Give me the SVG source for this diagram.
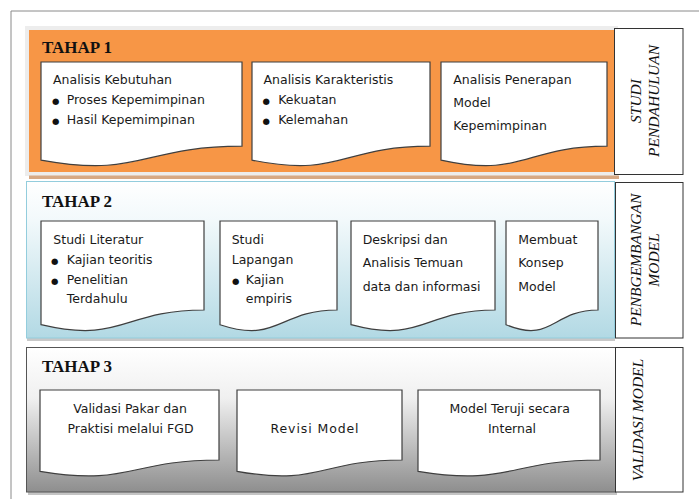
<svg xmlns="http://www.w3.org/2000/svg" width="699" height="499" viewBox="0 0 699 499">
<defs>
<linearGradient id="gBlue" x1="0" y1="0" x2="0" y2="1">
<stop offset="0" stop-color="#ffffff"/>
<stop offset="0.25" stop-color="#f2f9fb"/>
<stop offset="1" stop-color="#b2d9e4"/>
</linearGradient>
<linearGradient id="gGrey" x1="0" y1="0" x2="0" y2="1">
<stop offset="0" stop-color="#ffffff"/>
<stop offset="0.35" stop-color="#f0f0f0"/>
<stop offset="1" stop-color="#8e8e8e"/>
</linearGradient>
</defs>
<style>
.doc{fill:#ffffff;stroke:#3f3f3f;stroke-width:1.2}
.t{font-family:"DejaVu Sans",sans-serif;font-size:12.5px;fill:#1a1a1a}
.c{text-anchor:middle}
.b{font-family:"DejaVu Sans",sans-serif;font-size:8.5px;fill:#111}
.h{font-family:"Liberation Serif",serif;font-size:17px;font-weight:bold;fill:#111}
.side{fill:#ffffff;stroke:#333;stroke-width:1}
.r{font-family:"Liberation Serif",serif;font-size:15.5px;font-style:italic;fill:#111;text-anchor:middle}
</style>
<rect width="699" height="499" fill="#ffffff"/>
<path d="M11,499 V11 H699" fill="none" stroke="#8a8a8a" stroke-width="1"/>

<g id="tahap1">
<rect x="25" y="26" width="593" height="150" fill="#ededed"/>
<rect x="29" y="175.5" width="590" height="3.5" fill="#d7a985"/>
<rect x="29" y="30" width="585" height="142" fill="#f79646"/>
<text class="h" x="42" y="53">TAHAP 1</text>
</g>
<g id="studi">
<rect class="side" x="614.5" y="28.5" width="68.5" height="146"/>
<text class="r" transform="translate(640.5,101) rotate(-90)">STUDI</text>
<text class="r" transform="translate(659,101) rotate(-90)">PENDAHULUAN</text>
</g>
<g id="doc1-1">
<path class="doc" d="M41,62 H242 V146.2 C141.5,146.2 141.5,178.2 41,160.1 Z"/>
<text class="t" x="53" y="84">Analisis Kebutuhan</text>
<text class="b" x="52" y="104">●</text><text class="t" x="66.7" y="104">Proses Kepemimpinan</text>
<text class="b" x="52" y="123.5">●</text><text class="t" x="66.7" y="123.5">Hasil Kepemimpinan</text>
</g>
<g id="doc1-2">
<path class="doc" d="M252,62 H430 V146.2 C341,146.2 341,178.2 252,160.1 Z"/>
<text class="t" x="263.5" y="84">Analisis Karakteristis</text>
<text class="b" x="262.5" y="104">●</text><text class="t" x="278.3" y="104">Kekuatan</text>
<text class="b" x="262.5" y="123.5">●</text><text class="t" x="278.3" y="123.5">Kelemahan</text>
</g>
<g id="doc1-3">
<path class="doc" d="M441,62 H607 V146.2 C524,146.2 524,178.2 441,160.1 Z"/>
<text class="t" x="453.3" y="84.3">Analisis Penerapan</text>
<text class="t" x="453.3" y="107">Model</text>
<text class="t" x="453.3" y="130">Kepemimpinan</text>
</g>

<g id="tahap2">
<rect x="27" y="184" width="588" height="157" fill="#c8c8c8"/>
<rect x="26.5" y="181.5" width="588" height="156.5" fill="url(#gBlue)" stroke="#93cddd" stroke-width="1"/>
<text class="h" x="42" y="207">TAHAP 2</text>
</g>
<g id="pengembangan">
<rect class="side" x="615.5" y="182.5" width="67.5" height="155.5"/>
<text class="r" transform="translate(640.5,260) rotate(-90)">PENBGEMBANGAN</text>
<text class="r" transform="translate(659,260) rotate(-90)">MODEL</text>
</g>
<g id="doc2-1">
<path class="doc" d="M41,221 H204 V310 C122.5,310 122.5,343.9 41,324.7 Z"/>
<text class="t" x="53.3" y="244">Studi Literatur</text>
<text class="b" x="51" y="264">●</text><text class="t" x="66.7" y="264">Kajian teoritis</text>
<text class="b" x="51" y="283.5">●</text><text class="t" x="66.7" y="283.5">Penelitian</text>
<text class="t" x="66.7" y="303.3">Terdahulu</text>
</g>
<g id="doc2-2">
<path class="doc" d="M220,221 H337 V310 C278.5,310 278.5,343.9 220,324.7 Z"/>
<text class="t" x="231.7" y="244">Studi</text>
<text class="t" x="231.7" y="264">Lapangan</text>
<text class="b" x="232" y="283.5">●</text><text class="t" x="245.7" y="283.5">Kajian</text>
<text class="t" x="245.7" y="303.3">empiris</text>
</g>
<g id="doc2-3">
<path class="doc" d="M351,221 H495 V310 C423,310 423,343.9 351,324.7 Z"/>
<text class="t" x="362.7" y="243.5">Deskripsi dan</text>
<text class="t" x="362.7" y="267">Analisis Temuan</text>
<text class="t" x="362.7" y="290.7">data dan informasi</text>
</g>
<g id="doc2-4">
<path class="doc" d="M506,221 H598 V310 C552,310 552,343.9 506,324.7 Z"/>
<text class="t" x="518.3" y="243.5">Membuat</text>
<text class="t" x="518.3" y="267">Konsep</text>
<text class="t" x="518.3" y="290.7">Model</text>
</g>

<g id="tahap3">
<rect x="28" y="350" width="589" height="145" fill="#c4c4c4"/>
<rect x="26.5" y="347.5" width="589" height="144.5" fill="url(#gGrey)" stroke="#555" stroke-width="1"/>
<text class="h" x="42" y="372">TAHAP 3</text>
</g>
<g id="validasi">
<rect class="side" x="615.5" y="347.5" width="67.5" height="144.5"/>
<text class="r" transform="translate(643,420) rotate(-90)">VALIDASI MODEL</text>
</g>
<g id="doc3-1">
<path class="doc" d="M40,390 H219 V460 C129.5,460 129.5,486.3 40,471.3 Z"/>
<text class="t c" x="130" y="413.3">Validasi Pakar dan</text>
<text class="t c" x="130.5" y="433.3">Praktisi melalui FGD</text>
</g>
<g id="doc3-2">
<path class="doc" d="M237,390 H402 V460 C319.5,460 319.5,486.3 237,471.3 Z"/>
<text class="t c" x="315" y="433.3" letter-spacing="0.9">Revisi Model</text>
</g>
<g id="doc3-3">
<path class="doc" d="M418,390 H600 V460 C509,460 509,486.3 418,471.3 Z"/>
<text class="t c" x="509.7" y="412.7">Model Teruji secara</text>
<text class="t c" x="512" y="432.7">Internal</text>
</g>
<g id="connectors"></g>
</svg>
